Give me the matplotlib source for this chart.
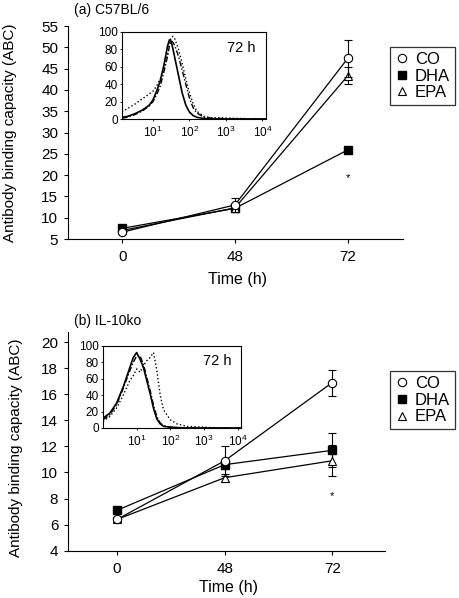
import numpy as np
import matplotlib
matplotlib.use("Agg")
import matplotlib.pyplot as plt

plt.rcParams['font.family'] = ['Liberation Sans', 'DejaVu Sans']
plt.rcParams['mathtext.fontset'] = 'custom'
plt.rcParams['mathtext.rm'] = 'Liberation Sans'

times = ['0', '48', '72']
groups = ['CO', 'DHA', 'EPA']

# panel (a) C57BL/6
a_co = [6.6, 13.0, 47.4]
a_co_err = [0.3, 1.6, 4.3]
a_dha = [7.5, 12.2, 25.9]
a_dha_err = [0.5, 0.3, 0.6]
a_epa = [7.0, 12.3, 43.3]
a_epa_err = [0.3, 0.5, 2.0]

# panel (b) IL-10ko
b_co = [6.4, 10.9, 16.9]
b_co_err = [0.2, 1.15, 1.0]
b_dha = [7.1, 10.6, 11.7]
b_dha_err = [0.2, 0.3, 1.3]
b_epa = [6.4, 9.6, 10.9]
b_epa_err = [0.15, 0.3, 1.2]

# inset histograms (log10 fluorescence, % of max)
a_logx = [0.15, 0.3, 0.5, 0.7, 0.9, 1.0, 1.1, 1.2, 1.3, 1.4, 1.45, 1.5, 1.55, 1.6, 1.7,
          1.8, 1.9, 2.0, 2.1, 2.2, 2.4, 2.6, 3.0, 3.5, 4.1]
a_solid = [2, 3, 6, 10, 16, 22, 32, 44, 62, 84, 91, 89, 80, 70, 50,
           30, 16, 8, 4, 2, 0.5, 0.3, 0, 0, 0]
a_dash = [1, 2, 5, 9, 15, 20, 28, 38, 54, 72, 84, 90, 88, 84, 72,
          56, 40, 24, 13, 7, 2, 1, 0.5, 0, 0]
a_dot = [8, 12, 17, 23, 29, 32, 38, 46, 58, 74, 86, 94, 95, 92, 80,
         64, 46, 30, 18, 9, 3, 1.5, 1, 0.5, 0]

b_logx = [0.0, 0.2, 0.4, 0.6, 0.8, 0.9, 1.0, 1.1, 1.2, 1.3, 1.4, 1.5, 1.6, 1.7,
          1.8, 2.0, 2.2, 2.5, 3.0, 3.5, 4.1]
b_solid = [12, 18, 30, 50, 74, 86, 92, 84, 74, 58, 42, 24, 11, 5, 2, 1, 0.5, 0, 0, 0, 0]
b_dash = [10, 16, 28, 48, 70, 80, 88, 88, 78, 62, 46, 28, 14, 6, 3, 1, 0.5, 0, 0, 0, 0]
b_dot = [8, 14, 24, 40, 58, 64, 72, 68, 76, 82, 86, 92, 70, 40, 22, 10, 5, 2, 1, 0, 0]

W, H = 460, 598
fig = plt.figure(figsize=(W / 100, H / 100), dpi=100)


def fig_rect(x0, y0, x1, y1):
    return [x0 / W, 1 - y1 / H, (x1 - x0) / W, (y1 - y0) / H]


def main_panel(rect, co, co_e, dha, dha_e, epa, epa_e, ylim, yticks, xlim):
    ax = fig.add_axes(rect)
    x = np.arange(len(times))
    kw = dict(color='black', lw=0.9, capsize=2.8, elinewidth=0.8, capthick=0.8, ms=6)
    ax.errorbar(x, dha, yerr=dha_e, marker='s', mfc='black', mec='black', zorder=3, **kw)
    ax.errorbar(x, epa, yerr=epa_e, marker='^', mfc='white', mec='black', mew=0.8, zorder=4, **kw)
    ax.errorbar(x, co, yerr=co_e, marker='o', mfc='white', mec='black', mew=0.8, zorder=5, **kw)
    ax.set_xlim(*xlim)
    ax.set_ylim(*ylim)
    ax.set_yticks(yticks)
    ax.set_xticks(x)
    ax.set_xticklabels(times)
    for s in ['top', 'right']:
        ax.spines[s].set_visible(False)
    for s in ['left', 'bottom']:
        ax.spines[s].set_linewidth(0.8)
    ax.tick_params(labelsize=11, length=3, width=0.8, pad=4)
    ax.tick_params(axis='x', pad=5)
    ax.set_ylabel('Antibody binding capacity (ABC)', fontsize=11)
    ax.set_xlabel('Time (h)', fontsize=11.5)
    return ax


def inset(rect, logx, solid, dash, dot, xlim):
    ia = fig.add_axes(rect)
    xs = 10 ** np.array(logx)
    ia.plot(xs, dot, color='black', lw=1.0, ls=':')
    ia.plot(xs, dash, color='black', lw=1.0, ls=(0, (4, 1.5, 1, 1.5)))
    ia.plot(xs, solid, color='black', lw=1.2, ls='-')
    ia.set_xscale('log')
    ia.set_xlim(*xlim)
    ia.set_ylim(0, 100)
    ia.set_yticks([0, 20, 40, 60, 80, 100])
    ia.set_xticks([10, 100, 1000, 10000])
    ia.set_xticklabels(['$10^{1}$', '$10^{2}$', '$10^{3}$', '$10^{4}$'])
    ia.minorticks_off()
    ia.tick_params(labelsize=8.5, length=1.5, width=0.6, pad=1.5)
    ia.tick_params(axis='x', pad=3)
    for s in ia.spines.values():
        s.set_linewidth(0.8)
    ia.text(0.93, 0.82, '72 h', transform=ia.transAxes, ha='right', va='center', fontsize=10.5)
    return ia


# panel (a)
ax1 = main_panel(fig_rect(68, 26, 403, 239), a_co, a_co_err, a_dha, a_dha_err,
                 a_epa, a_epa_err, (5, 55), range(5, 56, 5), (-0.48, 2.49))
ax1.yaxis.set_label_coords(-0.152, 0.5)
ax1.xaxis.set_label_coords(0.507, -0.155)
ax1.text(2, 19.3, '*', ha='center', va='center', fontsize=8)
fig.text(74 / W, 1 - 10 / H, '(a) C57BL/6', ha='left', va='center', fontsize=10)
inset(fig_rect(122, 32, 266, 119), a_logx, a_solid, a_dash, a_dot, (10 ** 0.15, 10 ** 4.1))

# panel (b)
ax2 = main_panel(fig_rect(68, 331.7, 385, 550.7), b_co, b_co_err, b_dha, b_dha_err,
                 b_epa, b_epa_err, (4, 20.8), range(4, 21, 2), (-0.456, 2.49))
ax2.yaxis.set_label_coords(-0.142, 0.47)
ax2.xaxis.set_label_coords(0.505, -0.135)
ax2.text(2, 8.2, '*', ha='center', va='center', fontsize=8)
fig.text(74 / W, 1 - 321 / H, '(b) IL-10ko', ha='left', va='center', fontsize=10)
inset(fig_rect(103, 346, 241, 428), b_logx, b_solid, b_dash, b_dot, (10 ** 0.0, 10 ** 4.1))

# legends
for ax, top in [(ax1, 47), (ax2, 371)]:
    hs = [plt.Line2D([], [], ls='none', marker='o', mfc='white', mec='black', ms=6, mew=0.8),
          plt.Line2D([], [], ls='none', marker='s', mfc='black', mec='black', ms=6),
          plt.Line2D([], [], ls='none', marker='^', mfc='white', mec='black', ms=6, mew=0.8)]
    leg = ax.legend(hs, groups, loc='upper left', bbox_to_anchor=(390 / W, 1 - top / H),
                    bbox_transform=fig.transFigure, fontsize=12, frameon=True, fancybox=False,
                    handlelength=0.8, handletextpad=0.4, borderpad=0.3, labelspacing=0.1,
                    borderaxespad=0)
    leg.get_frame().set_edgecolor('black')
    leg.get_frame().set_linewidth(0.9)

fig.savefig('out.png', dpi=100)
